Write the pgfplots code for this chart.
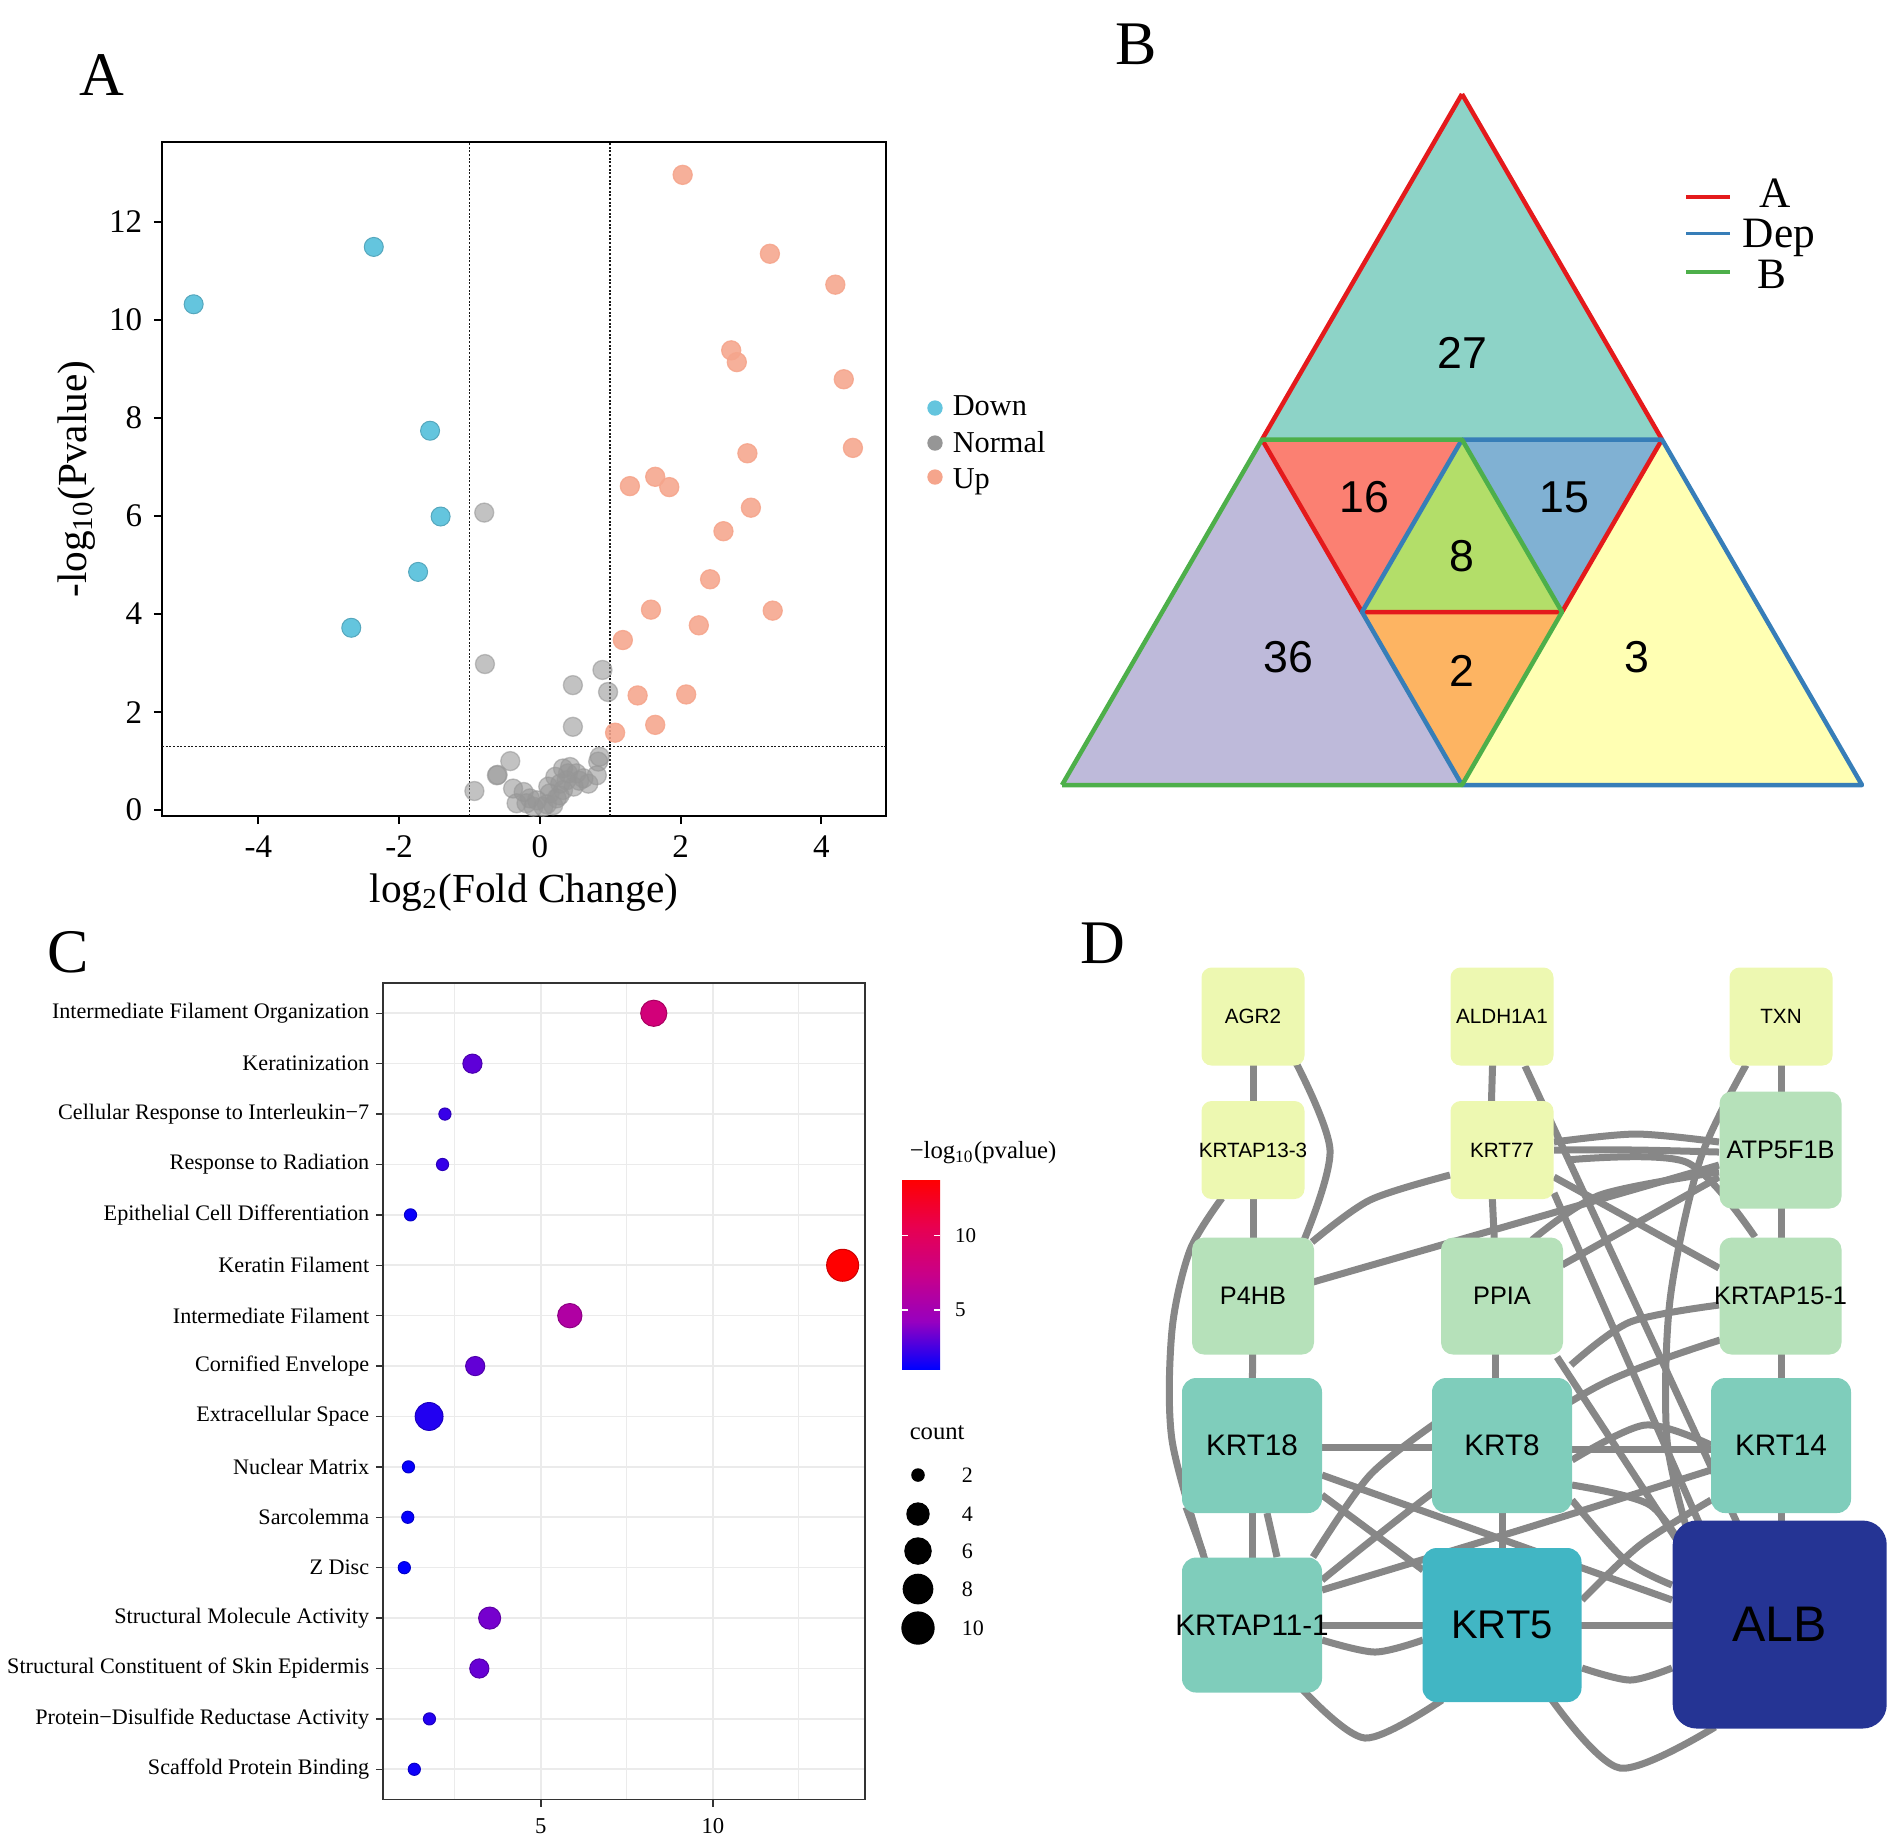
\documentclass[border=0pt]{standalone}
\usepackage{fontspec}
\setmainfont{Liberation Serif}
\newfontfamily\arialf{Liberation Sans}
\usepackage{pgfplots}
\usepackage{pgfplotstable}
\pgfplotsset{compat=1.18}
\pgfplotsset{/pgf/number format/assume math mode=true}

\definecolor{downc}{RGB}{100,197,222}
\definecolor{normc}{RGB}{150,150,150}
\definecolor{upc}{RGB}{245,165,140}
\definecolor{vtop}{RGB}{141,211,199}
\definecolor{vleft}{RGB}{190,186,218}
\definecolor{vright}{RGB}{255,255,179}
\definecolor{vsix}{RGB}{251,128,114}
\definecolor{vfif}{RGB}{128,177,211}
\definecolor{veig}{RGB}{179,222,105}
\definecolor{vtwo}{RGB}{253,180,98}
\definecolor{setA}{RGB}{228,26,28}
\definecolor{setDep}{RGB}{55,126,184}
\definecolor{setB}{RGB}{77,175,74}
\definecolor{nodeA}{RGB}{237,248,177}
\definecolor{nodeB}{RGB}{182,225,186}
\definecolor{nodeC}{RGB}{127,205,187}
\definecolor{nodeD}{RGB}{65,182,196}
\definecolor{nodeE}{RGB}{37,52,148}
\definecolor{edgec}{RGB}{135,135,135}
\definecolor{gridc}{RGB}{235,235,235}
\definecolor{framec}{RGB}{51,51,51}

% GO terms: y position, -log10(p), count
\pgfplotstableread{
y x count
16 8.28 6
15 3.01 3
14 2.21 2
13 2.14 2
12 1.21 2
11 13.77 10
10 5.84 5
9 3.09 3
8 1.75 7
7 1.15 2
6 1.13 2
5 1.03 2
4 3.51 4
3 3.21 3
2 1.76 2
1 1.32 2
}\goterms

\pgfplotsset{
  edge/.style={draw=edgec, line width=2.1pt, smooth, mark=none},
  boxnode/.style={only marks, mark=none, nodes near coords={},
    every node near coord/.append style={anchor=center, inner sep=0pt, draw=none, #1}},
  labnode/.style={only marks, mark=none, point meta=explicit symbolic, nodes near coords,
    every node near coord/.append style={anchor=center, inner sep=0pt, text=black, #1}},
}

\begin{document}
\begin{tikzpicture}
\useasboundingbox (0,0) rectangle (570.3pt,-552pt);

% ---------------- A: volcano
\begin{axis}[
  at={(48.6pt,-244.8pt)}, anchor=south west, scale only axis,
  width=217.2pt, height=202.2pt,
  xmin=-5.37, xmax=4.92, ymin=-0.12, ymax=13.63,
  xtick={-4,-2,0,2,4}, ytick={0,2,4,6,8,10,12},
  tick pos=left, tick align=outside, major tick length=2.4pt,
  tick style={black, line width=0.6pt},
  axis line style={black, line width=0.75pt},
  tick label style={font=\fontsize{9.9}{10}\selectfont},
  label style={font=\fontsize{12.4}{14}\selectfont},
  xlabel={log\textsubscript{2}(Fold Change)},
  ylabel={-log\textsubscript{10}(Pvalue)},
  xlabel style={at={(axis description cs:0.5,-0.129)}, anchor=base},
  ylabel style={at={(axis description cs:-0.1174,0.5)}, anchor=center},
]
\addplot[black!90, line width=0.5pt, dash pattern=on 0.6pt off 0.5pt] coordinates {(-1,-0.12) (-1,13.63)};
\addplot[black!90, line width=0.5pt, dash pattern=on 0.6pt off 0.5pt] coordinates {(1,-0.12) (1,13.63)};
\addplot[black!90, line width=0.5pt, dash pattern=on 0.6pt off 0.5pt] coordinates {(-5.37,1.3) (4.92,1.3)};
\addplot[only marks, mark=*, mark size=2.85pt, mark options={draw=normc, fill=normc, opacity=0.58}] coordinates {
(-0.79,6.07) (-0.78,2.98) (0.89,2.86) (0.47,2.55) (0.97,2.41) (0.47,1.70)
(0.85,1.09) (0.83,0.99) (-0.42,1.00) (-0.61,0.71) (-0.60,0.72) (-0.93,0.39) (-0.38,0.44)
(-0.23,0.37) (-0.19,0.14) (-0.09,0.07) (0.05,0.07) (0.19,0.10) (0.14,0.34) (0.22,0.68)
(0.33,0.85) (0.43,0.88) (0.38,0.61) (0.48,0.48) (0.33,0.41) (0.62,0.65) (0.69,0.54)
(0.81,0.71) (0.24,0.24) (0.29,0.54) (0.52,0.75) (0.12,0.48) (-0.04,0.20) (-0.33,0.14)
(-0.14,0.24) (0.40,0.75) (0.28,0.30) (0.10,0.12) (0.56,0.60)};
\addplot[only marks, mark=*, mark size=2.85pt, mark options={draw=downc!85!black, fill=downc, line width=0.3pt}] coordinates {
(-4.92,10.32) (-2.36,11.49) (-1.56,7.74) (-1.41,5.99) (-1.73,4.86) (-2.68,3.72)};
\addplot[only marks, mark=*, mark size=2.85pt, mark options={draw=upc, fill=upc, opacity=0.88}] coordinates {
(2.03,12.96) (3.27,11.35) (4.20,10.72) (2.72,9.38) (2.80,9.14) (4.32,8.79) (4.45,7.39)
(2.95,7.28) (1.64,6.80) (1.28,6.61) (1.84,6.59) (3.00,6.17) (2.61,5.69) (2.42,4.71)
(1.58,4.09) (3.31,4.07) (2.26,3.77) (1.18,3.47) (1.39,2.34) (2.08,2.36) (1.64,1.74)
(1.07,1.58)};
\end{axis}

% ---------------- C: GO dot plot
\begin{axis}[
  at={(114.9pt,-539.85pt)}, anchor=south west, scale only axis,
  width=144.6pt, height=244.95pt,
  xmin=0.41, xmax=14.42, ymin=0.4, ymax=16.6,
  xtick={5,10}, minor xtick={2.5,7.5,12.5},
  ytick={1,...,16},
  yticklabels={Scaffold Protein Binding, Protein−Disulfide Reductase Activity,
    Structural Constituent of Skin Epidermis, Structural Molecule Activity, Z Disc,
    Sarcolemma, Nuclear Matrix, Extracellular Space, Cornified Envelope,
    Intermediate Filament, Keratin Filament, Epithelial Cell Differentiation,
    Response to Radiation, Cellular Response to Interleukin−7, Keratinization,
    Intermediate Filament Organization},
  tick pos=left, tick align=outside,
  major tick length=2.1pt, minor tick length=0pt,
  tick style={framec, line width=0.45pt},
  axis line style={framec, line width=0.55pt},
  xmajorgrids, xminorgrids, ymajorgrids,
  major grid style={gridc, line width=0.48pt},
  minor grid style={gridc, line width=0.3pt},
  xticklabel style={font=\fontsize{6.8}{7}\selectfont},
  yticklabel style={font=\fontsize{6.65}{7}\selectfont, xshift=1.5pt},
  colormap={gobr}{rgb255(0cm)=(0,0,255); rgb255(1cm)=(151,0,192); rgb255(2cm)=(201,0,136); rgb255(3cm)=(232,0,80); rgb255(4cm)=(255,0,0)},
  colorbar,
  colorbar style={
    at={(parent axis.north east)}, anchor=north west,
    xshift=2.6pt, yshift=-58.8pt,
    scale only axis, width=11.4pt, height=57pt,
    ytick={5,10}, yticklabel pos=right, ytick pos=both,
    tick align=inside, major tick length=1.8pt,
    tick style={white, line width=0.45pt},
    axis line style={draw=none},
    yticklabel style={font=\fontsize{6.3}{7}\selectfont, xshift=1pt},
  },
]
\addplot[scatter, only marks, mark=*, point meta=\thisrow{x},
  scatter/use mapped color={draw=mapped color!80!black, fill=mapped color},
  visualization depends on={(6.1+9.9*sqrt((\thisrow{count}-2)/8))*0.3 \as \msize},
  scatter/@pre marker code/.append style={/tikz/mark size=\msize pt},
  mark options={line width=0.3pt}]
  table[x=x, y=y] {\goterms};
\end{axis}

% ---------------- overlay: panel B, panel D, legends, letters
\begin{axis}[
  at={(0pt,0pt)}, anchor=north west, scale only axis,
  width=570.3pt, height=552pt,
  xmin=0, xmax=1901, ymin=0, ymax=1840, y dir=reverse,
  hide axis, clip=false,
]
% B: regions
\addplot[fill=vtop, draw=none] coordinates {(1462,94) (1262,439.5) (1662,439.5)};
\addplot[fill=vleft, draw=none] coordinates {(1062,785) (1262,439.5) (1362,612) (1462,785)};
\addplot[fill=vright, draw=none] coordinates {(1862,785) (1662,439.5) (1562,612) (1462,785)};
\addplot[fill=vsix, draw=none] coordinates {(1262,439.5) (1462,439.5) (1362,612)};
\addplot[fill=vfif, draw=none] coordinates {(1462,439.5) (1662,439.5) (1562,612)};
\addplot[fill=veig, draw=none] coordinates {(1462,439.5) (1362,612) (1562,612)};
\addplot[fill=vtwo, draw=none] coordinates {(1362,612) (1562,612) (1462,785)};
% B: set outlines
\addplot[setA, line width=1.35pt, line join=round] coordinates {(1462,94) (1262,439.5) (1362,612) (1562,612) (1662,439.5) (1462,94)};
\addplot[setDep, line width=1.35pt, line join=round] coordinates {(1462,439.5) (1362,612) (1462,785) (1862,785) (1662,439.5) (1462,439.5)};
\addplot[setB, line width=1.35pt, line join=round] coordinates {(1062,785) (1262,439.5) (1462,439.5) (1562,612) (1462,785) (1062,785)};
% B: counts
\begin{scope}[font=\arialf\fontsize{13.4}{14}\selectfont]
\node at (axis cs:1462,353) {27};
\node at (axis cs:1364,497) {16};
\node at (axis cs:1564,497) {15};
\node at (axis cs:1462,556) {8};
\node at (axis cs:1288,657) {36};
\node at (axis cs:1462,671) {2};
\node at (axis cs:1637,657) {3};
\end{scope}
% B: legend
\addplot[setA, line width=1.05pt] coordinates {(1686,197) (1730,197)};
\addplot[setDep, line width=1.05pt] coordinates {(1686,233.5) (1730,233.5)};
\addplot[setB, line width=1.05pt] coordinates {(1686,272) (1730,272)};
\begin{scope}[font=\fontsize{13}{14}\selectfont]
\node[anchor=base] at (axis cs:1775.5,207) {A};
\node[anchor=base] at (axis cs:1779,247) {Dep};
\node[anchor=base] at (axis cs:1772,288) {B};
\end{scope}

% A: legend
\addplot[only marks, mark=*, mark size=2.1pt, mark options={draw=downc, fill=downc}] coordinates {(935,408)};
\addplot[only marks, mark=*, mark size=2.1pt, mark options={draw=normc, fill=normc}] coordinates {(935,443)};
\addplot[only marks, mark=*, mark size=2.1pt, mark options={draw=upc, fill=upc}] coordinates {(935,477)};
\begin{scope}[font=\fontsize{9.1}{10}\selectfont]
\node[anchor=base west] at (axis cs:941,415) {Down};
\node[anchor=base west] at (axis cs:941,452) {Normal};
\node[anchor=base west] at (axis cs:941,488) {Up};
\end{scope}

% C: legend titles and count key
\node[anchor=west, font=\fontsize{7.4}{8}\selectfont] at (axis cs:898,1153) {−log\textsubscript{10}(pvalue)};
\node[anchor=west, font=\fontsize{7.4}{8}\selectfont] at (axis cs:898,1433) {count};
\addplot[scatter, only marks, mark=*,
  scatter/use mapped color={draw=black, fill=black},
  visualization depends on={(6.1+9.9*sqrt((\thisrow{count}-2)/8))*0.3 \as \msize},
  scatter/@pre marker code/.append style={/tikz/mark size=\msize pt}]
  table[row sep=\\] {x y count\\ 918 1475 2\\ 918 1514 4\\ 918 1551 6\\ 918 1589 8\\ 918 1628 10\\};
\begin{scope}[font=\fontsize{6.6}{7}\selectfont]
\node[anchor=west] at (axis cs:950,1475) {2};
\node[anchor=west] at (axis cs:950,1514) {4};
\node[anchor=west] at (axis cs:950,1551) {6};
\node[anchor=west] at (axis cs:950,1589) {8};
\node[anchor=west] at (axis cs:950,1628) {10};
\end{scope}

% D: edges
\addplot[edge] coordinates {(1253,1017) (1253,1150)};
\addplot[edge] coordinates {(1253,1150) (1253,1296)};
\addplot[edge] coordinates {(1253,1296) (1252,1446)};
\addplot[edge] coordinates {(1252,1446) (1252,1625)};
\addplot[edge] coordinates {(1292,1055) (1330,1150) (1302,1245)};
\addplot[edge] coordinates {(1222,1198) (1190,1250) (1172,1330) (1172,1440) (1205,1560)};
\addplot[edge] coordinates {(1186,1507) (1203,1553)};
\addplot[edge] coordinates {(1267,1513) (1277,1557)};
\addplot[edge] coordinates {(1494,1017) (1490,1150)};
\addplot[edge] coordinates {(1490,1150) (1497,1296)};
\addplot[edge] coordinates {(1495,1296) (1495,1446)};
\addplot[edge] coordinates {(1502,1446) (1502,1625)};
\addplot[edge] coordinates {(1781,1017) (1781,1150)};
\addplot[edge] coordinates {(1781,1150) (1781,1296)};
\addplot[edge] coordinates {(1781,1296) (1781,1446)};
\addplot[edge] coordinates {(1781,1446) (1781,1625)};
\addplot[edge] coordinates {(1252,1447) (1502,1447)};
\addplot[edge] coordinates {(1502,1449) (1781,1449)};
\addplot[edge] coordinates {(1252,1625) (1502,1625)};
\addplot[edge] coordinates {(1502,1625) (1780,1625)};
\addplot[edge] coordinates {(1525,1066) (1745,1540)};
\addplot[edge] coordinates {(1554,1142) (1636,1134) (1719,1142)};
\addplot[edge] coordinates {(1554,1150) (1636,1150) (1719,1152)};
\addplot[edge] coordinates {(1554,1177) (1719,1268)};
\addplot[edge] coordinates {(1450,1175) (1370,1200) (1312,1242)};
\addplot[edge] coordinates {(1313,1282) (1719,1165)};
\addplot[edge] coordinates {(1562,1265) (1719,1177)};
\addplot[edge] coordinates {(1746,1065) (1700,1160) (1670,1300) (1667,1440) (1690,1540)};
\addplot[edge] coordinates {(1719,1172) (1600,1195) (1532,1240)};
\addplot[edge] coordinates {(1566,1160) (1686,1162) (1755,1237)};
\addplot[edge] coordinates {(1554,1193) (1700,1525)};
\addplot[edge] coordinates {(1720,1340) (1600,1385) (1450,1480) (1322,1580)};
\addplot[edge] coordinates {(1719,1305) (1630,1322) (1571,1365)};
\addplot[edge] coordinates {(1557,1357) (1690,1560)};
\addplot[edge] coordinates {(1572,1460) (1645,1425) (1711,1445)};
\addplot[edge] coordinates {(1322,1475) (1672,1600)};
\addplot[edge] coordinates {(1322,1495) (1423,1570)};
\addplot[edge] coordinates {(1313,1557) (1370,1475) (1440,1420)};
\addplot[edge] coordinates {(1322,1590) (1520,1530) (1711,1470)};
\addplot[edge] coordinates {(1572,1485) (1650,1505) (1690,1560)};
\addplot[edge] coordinates {(1303,1690) (1365,1738) (1442,1700)};
\addplot[edge] coordinates {(1552,1700) (1620,1768) (1715,1727)};
\addplot[edge] coordinates {(1572,1500) (1625,1560) (1672,1585)};
\addplot[edge] coordinates {(1711,1500) (1640,1545) (1582,1600)};
\addplot[edge] coordinates {(1582,1668) (1630,1680) (1672,1668)};
\addplot[edge] coordinates {(1322,1640) (1375,1652) (1423,1640)};

% D: nodes
\addplot[boxnode={fill=nodeA, rounded corners=3pt, minimum width=30.9pt, minimum height=29.4pt}]
  coordinates {(1253,1016.5) (1502,1016.5) (1781,1016.5) (1253,1150) (1502,1150)};
\addplot[boxnode={fill=nodeB, rounded corners=3.6pt, minimum width=36.6pt, minimum height=35.1pt}]
  coordinates {(1780.5,1150) (1253,1296) (1502,1296) (1780.5,1296)};
\addplot[boxnode={fill=nodeC, rounded corners=4.2pt, minimum width=42pt, minimum height=40.5pt}]
  coordinates {(1252,1445.5) (1502,1445.5) (1781,1445.5) (1252,1625)};
\addplot[boxnode={fill=nodeD, rounded corners=4.2pt, minimum width=47.7pt, minimum height=46.2pt}]
  coordinates {(1502,1625)};
\addplot[boxnode={fill=nodeE, rounded corners=7.2pt, minimum width=64.2pt, minimum height=62.4pt}]
  coordinates {(1779.7,1624.5)};
\addplot[labnode={font=\arialf\fontsize{6.2}{7}\selectfont}]
  coordinates {(1253,1016.5) [AGR2] (1502,1016.5) [ALDH1A1] (1781,1016.5) [TXN] (1253,1150) [KRTAP13-3] (1502,1150) [KRT77]};
\addplot[labnode={font=\arialf\fontsize{7.6}{8}\selectfont}]
  coordinates {(1780.5,1150) [ATP5F1B] (1253,1296) [P4HB] (1502,1296) [PPIA] (1780.5,1296) [KRTAP15-1]};
\addplot[labnode={font=\arialf\fontsize{8.9}{9}\selectfont}]
  coordinates {(1252,1445.5) [KRT18] (1502,1445.5) [KRT8] (1781,1445.5) [KRT14] (1252,1625) [KRTAP11-1]};
\addplot[labnode={font=\arialf\fontsize{12}{13}\selectfont}]
  coordinates {(1502,1625) [KRT5]};
\addplot[labnode={font=\arialf\fontsize{15}{16}\selectfont}]
  coordinates {(1779.7,1624.5) [ALB]};

% panel letters
\begin{scope}[font=\fontsize{18.6}{20}\selectfont]
\node at (axis cs:102,75) {A};
\node at (axis cs:1136,44) {B};
\node at (axis cs:68.5,952) {C};
\node at (axis cs:1103,943.5) {D};
\end{scope}
\end{axis}
\end{tikzpicture}
\end{document}
